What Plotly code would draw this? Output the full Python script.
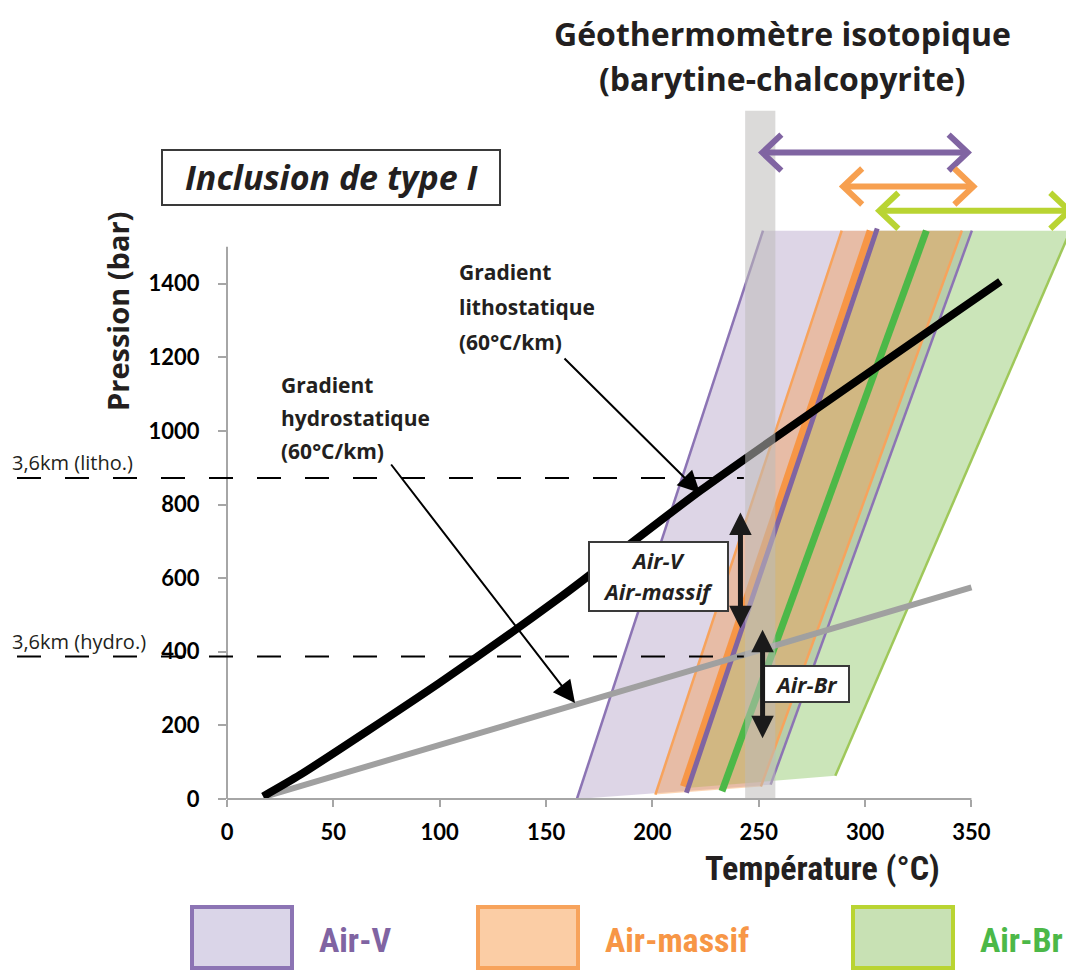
import plotly.graph_objects as go

# ---------------- data (T in degC, P in bar) ----------------
temp_ticks = [0, 50, 100, 150, 200, 250, 300, 350]
pres_ticks = [0, 200, 400, 600, 800, 1000, 1200, 1400]

# lithostatic / hydrostatic gradients
litho_t = [17, 34.5, 100, 156.7, 222.6, 363.6]
litho_p = [7, 66, 316, 548, 838, 1406]
hydro_t = [17, 350]
hydro_p = [5, 575]

# fluid inclusion isochore bands: bottom-left, top-left, top-right, bottom-right
airv_t = [164.5, 252, 350.2, 255.6]
airv_p = [0, 1544, 1544, 39]
massif_t = [201.4, 289, 345.5, 251]
massif_p = [12, 1544, 1544, 34]
airbr_t = [216, 304, 396.5, 286]
airbr_p = [30, 1544, 1544, 63]

# central isochores
airv_mid_t = [216, 305.7]
airv_mid_p = [17, 1550]
massif_mid_t = [214.6, 302.4]
massif_mid_p = [34, 1544]
airbr_mid_t = [232.7, 328.8]
airbr_mid_p = [21, 1544]

# isotopic geothermometer (barytine-chalcopyrite)
geo_t = [243.6, 257.8]
geo_p_top = 1870

# temperature ranges shown as double arrows at the top
range_lo = [251.7, 289.7, 306.7]
range_hi = [348.2, 350.9, 396]
range_p = [1756, 1664, 1598]

# 3,6 km depth pressures
depth_labels = ["3,6km (litho.)", "3,6km (hydro.)"]
depth_p = [872, 387]
depth_t_end = 243

# pressure ranges (vertical black arrows)
pr_t = [241.4, 251.8]
pr_lo = [460, 161]
pr_hi = [778, 460]
pr_labels = [["Air-V", "Air-massif"], ["Air-Br"]]

names = ["Air-V", "Air-massif", "Air-Br"]

# ---------------- layout geometry (page pixels; the page body adds an 8px margin) ----------------
OFF = 8
W, H = 1074 - OFF, 976 - OFF
AXIS_X, AXIS_Y = 227, 799          # page position of the origin
L = AXIS_X - OFF
B = H - (AXIS_Y - OFF)
PW, PH = W - L, AXIS_Y - OFF
XMAX = PW / 2.127
YMAX = PH / 0.3681

PURPLE = "#8064a2"
PURPLE_EDGE = "#8c74b4"
ORANGE = "#f79646"
ORANGE_EDGE = "#f7a35c"
GREEN = "#4cb848"
GREEN_EDGE = "#9fc85a"
LIME = "#b9d432"
DARK = "#231f20"
FONT = "Open Sans"
NARROW = "Roboto Condensed, Liberation Sans Narrow, Roboto"


def px(x):
    return (x - AXIS_X) / PW


def py(y):
    return (AXIS_Y - y) / PH


def label(x, y, text, size, color=DARK, family=FONT, bold=True, italic=False,
          xanchor="center", angle=0):
    return dict(xref="paper", yref="paper", x=px(x), y=py(y), text=text, showarrow=False,
                xanchor=xanchor, yanchor="middle", textangle=angle,
                font=dict(family=family, size=size, color=color,
                          weight="bold" if bold else "normal",
                          style="italic" if italic else "normal"))


fig = go.Figure()

# bands
fig.add_trace(go.Scatter(x=airv_t, y=airv_p, fill="toself", mode="none",
                         fillcolor="rgba(128,100,162,0.27)", hoverinfo="skip"))
fig.add_trace(go.Scatter(x=airbr_t, y=airbr_p, fill="toself", mode="none",
                         fillcolor="rgba(140,198,100,0.45)", hoverinfo="skip"))
fig.add_trace(go.Scatter(x=massif_t, y=massif_p, fill="toself", mode="none",
                         fillcolor="rgba(247,150,70,0.40)", hoverinfo="skip"))

# band edges
for xs, ys, col in [
    (airv_t[:2], airv_p[:2], PURPLE_EDGE), (airv_t[2:], airv_p[2:], PURPLE_EDGE),
    (massif_t[:2], massif_p[:2], ORANGE_EDGE), (massif_t[2:], massif_p[2:], ORANGE_EDGE),
    (airbr_t[2:], airbr_p[2:], GREEN_EDGE),
]:
    fig.add_trace(go.Scatter(x=xs, y=ys, mode="lines", line=dict(color=col, width=2.5),
                             hoverinfo="skip"))

# central isochores
fig.add_trace(go.Scatter(x=massif_mid_t, y=massif_mid_p, mode="lines",
                         line=dict(color=ORANGE, width=7), hoverinfo="skip"))
fig.add_trace(go.Scatter(x=airv_mid_t, y=airv_mid_p, mode="lines",
                         line=dict(color=PURPLE, width=5), hoverinfo="skip"))
fig.add_trace(go.Scatter(x=airbr_mid_t, y=airbr_mid_p, mode="lines",
                         line=dict(color=GREEN, width=7), hoverinfo="skip"))

# gradients
fig.add_trace(go.Scatter(x=hydro_t, y=hydro_p, mode="lines",
                         line=dict(color="#a0a0a0", width=6), hoverinfo="skip"))
fig.add_trace(go.Scatter(x=litho_t, y=litho_p, mode="lines",
                         line=dict(color="black", width=8, shape="spline", smoothing=0.6),
                         hoverinfo="skip"))

# geothermometer bar
fig.add_trace(go.Scatter(x=[geo_t[0], geo_t[0], geo_t[1], geo_t[1]],
                         y=[0, geo_p_top, geo_p_top, 0], fill="toself", mode="none",
                         fillcolor="rgba(190,188,186,0.55)", hoverinfo="skip"))

# top temperature-range arrows (open chevrons)
dx, dy = 19 / 2.127, 18 / 0.3681
for lo, hi, p, col in zip(range_lo, range_hi, range_p, [PURPLE, "#f7a050", LIME]):
    xs = [lo + dx, lo, lo + dx, None, lo, hi, None, hi - dx, hi, hi - dx]
    ys = [p + dy, p, p - dy, None, p, p, None, p + dy, p, p - dy]
    fig.add_trace(go.Scatter(x=xs, y=ys, mode="lines", line=dict(color=col, width=6),
                             hoverinfo="skip"))

shapes = []
annotations = []

# axis lines
shapes.append(dict(type="line", xref="paper", yref="paper", x0=0, x1=0, y0=0, y1=1500 / YMAX,
                   line=dict(color="#a6a6a6", width=2)))
shapes.append(dict(type="line", xref="paper", yref="paper", x0=0, x1=350 / XMAX, y0=0, y1=0,
                   line=dict(color="#a6a6a6", width=2)))

# depth reference lines
for lab, p in zip(depth_labels, depth_p):
    shapes.append(dict(type="line", xref="paper", yref="paper", x0=px(17), x1=depth_t_end / XMAX,
                       y0=p / YMAX, y1=p / YMAX,
                       line=dict(color="black", width=2, dash="24px,24px")))
    annotations.append(dict(xref="paper", yref="paper", x=px(10), y=p / YMAX, text=lab,
                            showarrow=False, xanchor="left", yanchor="bottom", yshift=0,
                            font=dict(family=FONT, size=20, color=DARK)))

# vertical pressure-range arrows and their boxes
for t, lo, hi in zip(pr_t, pr_lo, pr_hi):
    annotations.append(dict(x=t, y=hi, ax=t, ay=lo, axref="x", ayref="y", text="",
                            showarrow=True, arrowside="end+start", arrowhead=2, startarrowhead=2,
                            arrowsize=0.9, startarrowsize=0.9, arrowwidth=5, arrowcolor="#1a1a1a"))

box_style = dict(type="rect", xref="paper", yref="paper", fillcolor="white",
                 line=dict(color="#3a3a3a", width=2))
shapes.append(dict(box_style, x0=px(589), x1=px(728), y0=py(542), y1=py(611)))
shapes.append(dict(box_style, x0=px(763), x1=px(849), y0=py(666), y1=py(702)))
annotations.append(label(658, 560, pr_labels[0][0], 22, italic=True))
annotations.append(label(658, 591, pr_labels[0][1], 22, italic=True))
annotations.append(label(806, 684, pr_labels[1][0], 22, italic=True))

# gradient labels and pointer arrows
for lines, x0, ys in [(["Gradient", "lithostatique", "(60°C/km)"], 457, [272, 307, 342]),
                      (["Gradient", "hydrostatique", "(60°C/km)"], 279, [385, 418, 451])]:
    for txt, y in zip(lines, ys):
        annotations.append(label(x0, y, txt, 21, xanchor="left"))
for (x0, y0), (x1, y1) in [((563, 357), (700, 493)), ((390, 463), (575, 703))]:
    annotations.append(dict(xref="paper", yref="paper", x=px(x1), y=py(y1),
                            ax=x0 - x1, ay=y0 - y1, text="",
                            showarrow=True, arrowhead=2, arrowsize=2.2, arrowwidth=2,
                            arrowcolor="black"))

# title and framed label
annotations.append(label(782, 33, "Géothermomètre isotopique", 32))
annotations.append(label(782, 78, "(barytine-chalcopyrite)", 32))
shapes.append(dict(type="rect", xref="paper", yref="paper", x0=px(162), x1=px(500),
                   y0=py(150), y1=py(205), fillcolor="white",
                   line=dict(color="#3a3a3a", width=2)))
annotations.append(label(331, 177, "Inclusion de type I", 34, italic=True))

# axis titles
annotations.append(label(118, 312, "Pression (bar)", 29, angle=-90))
annotations.append(label(822, 868, "Température (°C)", 34, family=NARROW))

# legend
legend_cols = [("rgb(218,213,232)", PURPLE_EDGE, PURPLE),
               ("rgb(251,205,165)", ORANGE_EDGE, ORANGE),
               ("rgb(200,225,180)", LIME, GREEN)]
legend_x = [192, 478, 853]
for name, (fill, edge, txtcol), x in zip(names, legend_cols, legend_x):
    shapes.append(dict(type="rect", xref="paper", yref="paper", x0=px(x), x1=px(x + 100),
                       y0=py(907), y1=py(968), fillcolor=fill, line=dict(color=edge, width=4)))
    annotations.append(label(x + 125, 940, name, 34, color=txtcol, family=NARROW,
                             xanchor="left"))

fig.update_layout(
    width=W, height=H,
    margin=dict(l=L, r=0, t=0, b=B),
    paper_bgcolor="white", plot_bgcolor="white",
    showlegend=False,
    shapes=shapes, annotations=annotations,
    xaxis=dict(range=[0, XMAX], tickvals=temp_ticks, ticks="outside", ticklen=7, tickwidth=2,
               tickcolor="#a6a6a6", showline=False, showgrid=False, zeroline=False,
               ticklabelstandoff=7,
               tickfont=dict(family="Lato", size=22, color="black", weight="bold")),
    yaxis=dict(range=[0, YMAX], tickvals=pres_ticks, ticks="outside", ticklen=8, tickwidth=2,
               tickcolor="#a6a6a6", showline=False, showgrid=False, zeroline=False,
               ticklabelstandoff=14,
               tickfont=dict(family="Lato", size=22, color="black", weight="bold")),
)

fig.write_html("out.html")
